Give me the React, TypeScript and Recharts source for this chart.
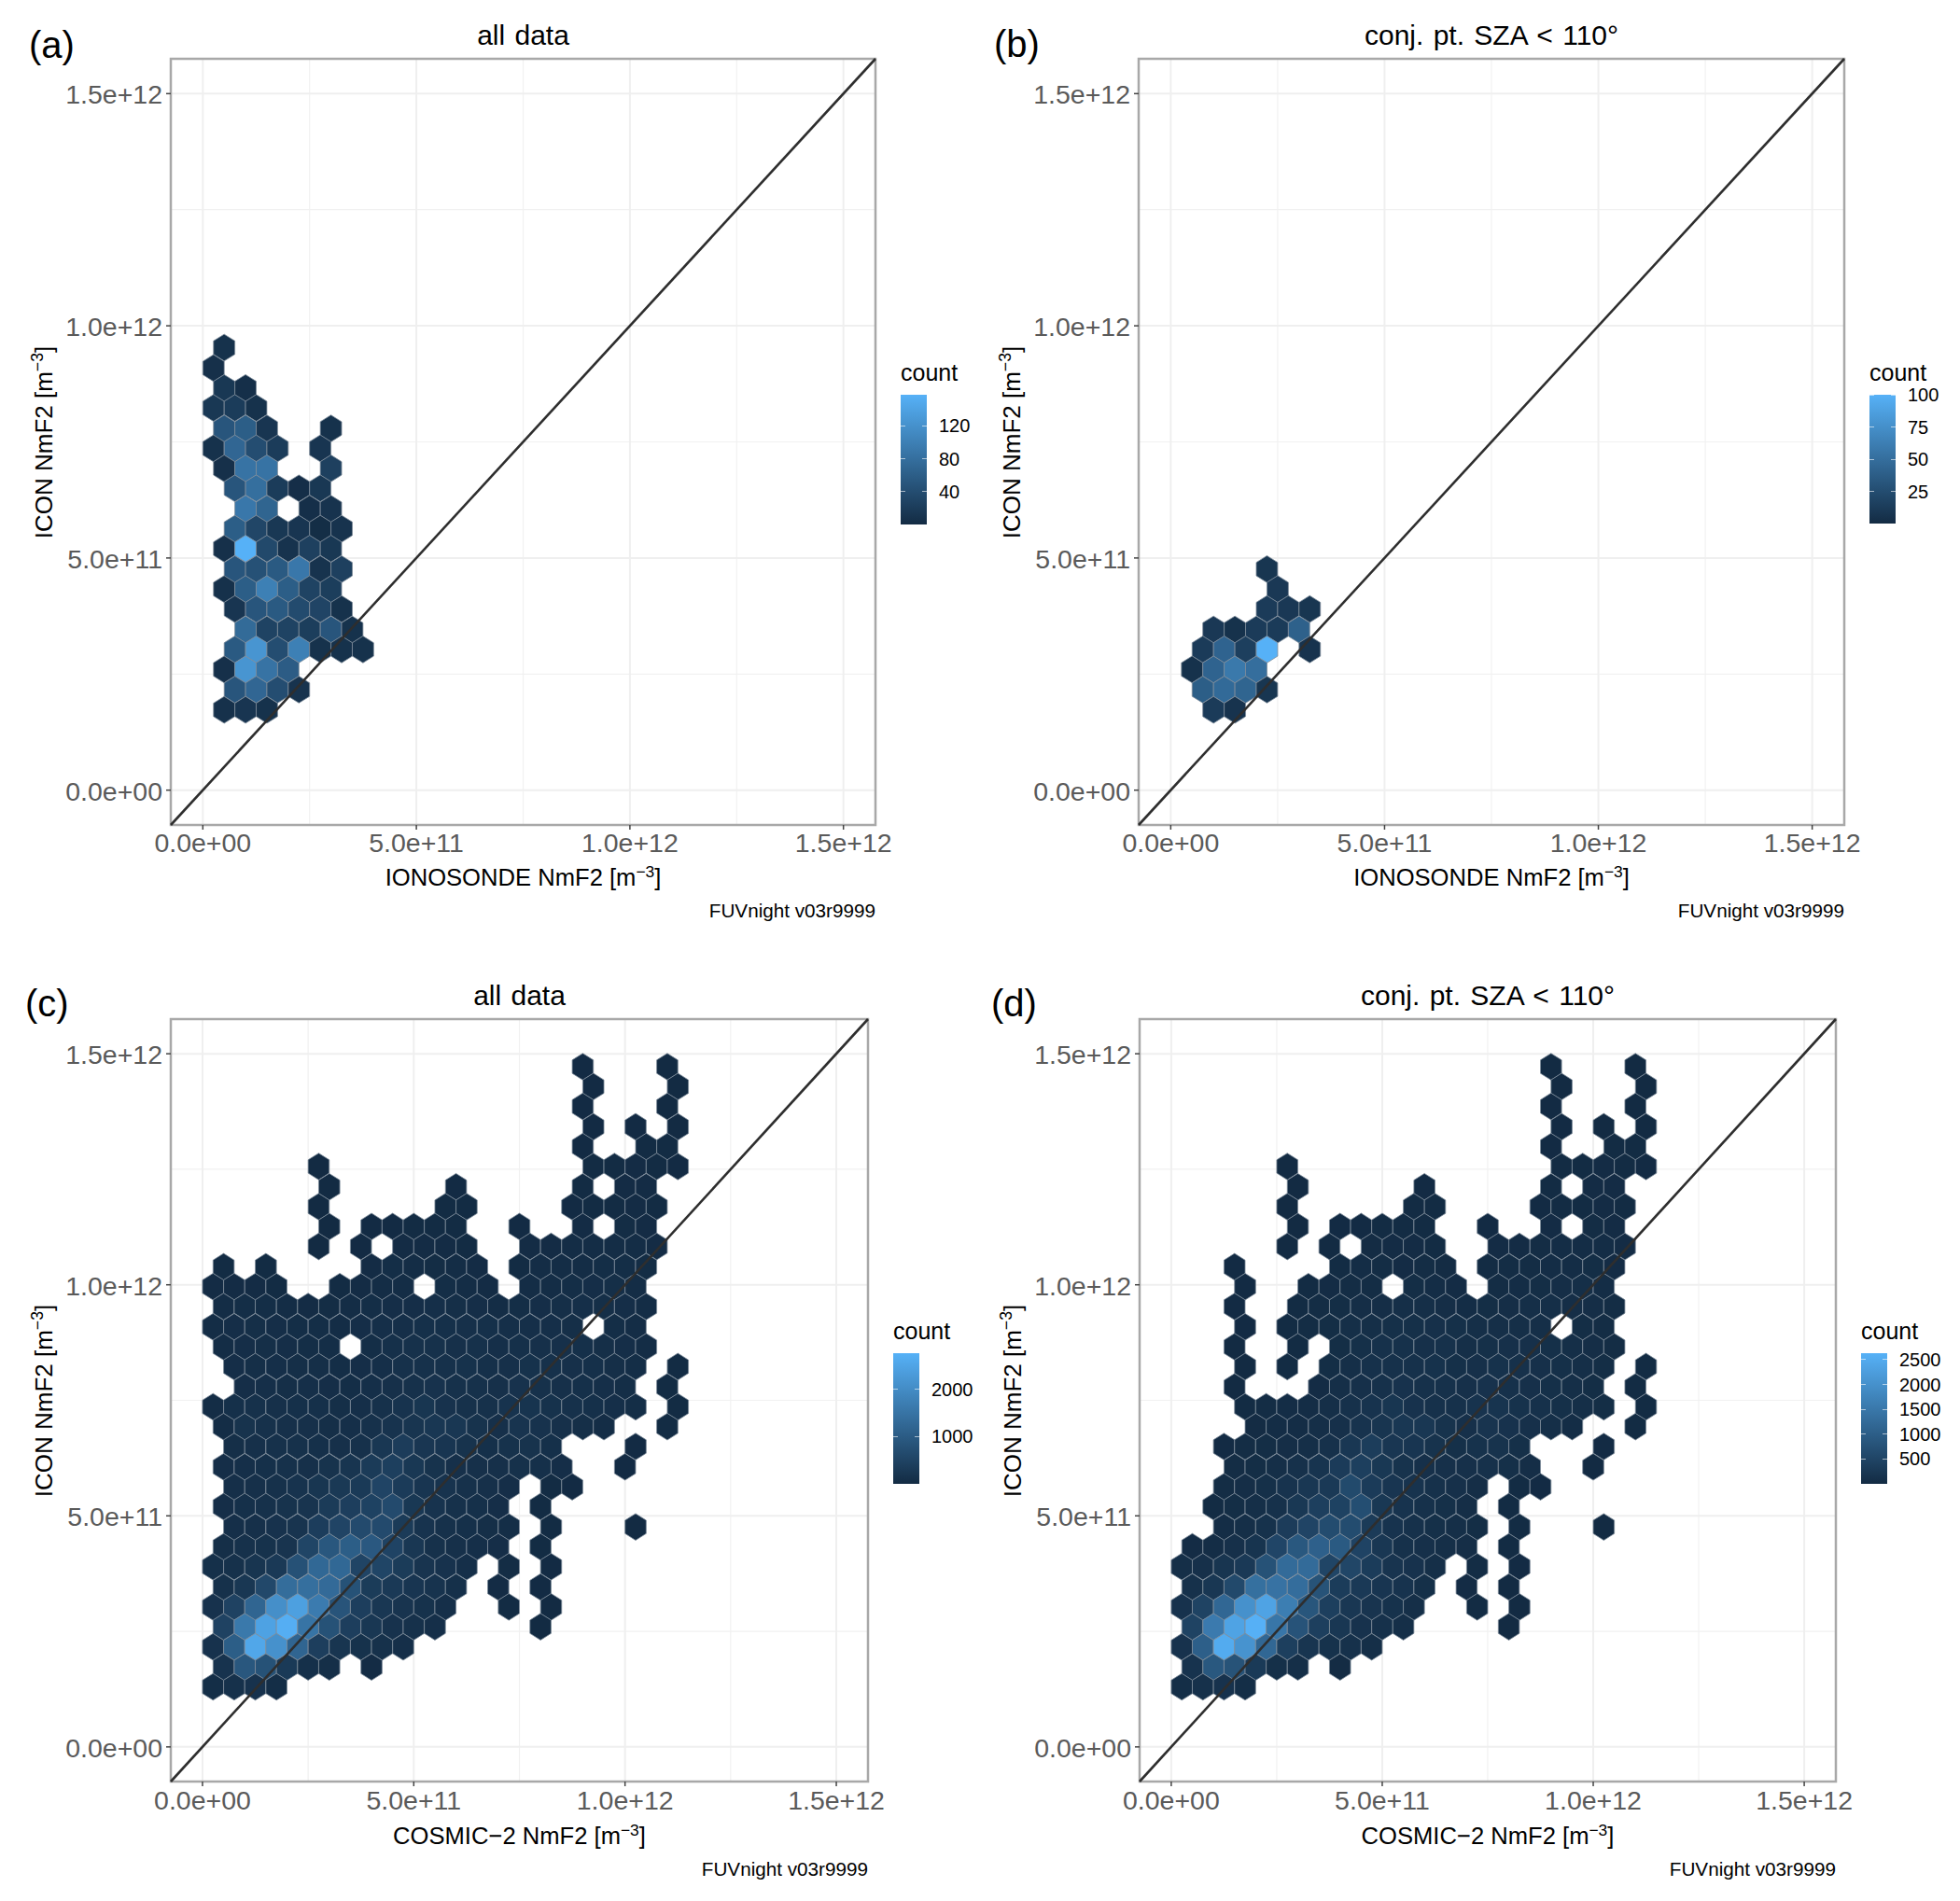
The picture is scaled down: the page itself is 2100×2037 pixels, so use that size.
import { ScatterChart, Scatter, XAxis, YAxis, CartesianGrid, ReferenceArea } from "recharts";

// all NmF2 values in units of 1e12 m^-3
type HexRow = [number, number, number[]]; // row y, x of first cell, counts per cell (0 = empty)

const binWidth = 0.05;
const axisRange = [-0.075, 1.575];
const majorTicks = [0, 0.5, 1, 1.5];
const minorTicks = [0.25, 0.75, 1.25];
const tickLabels = ["0.0e+00", "5.0e+11", "1.0e+12", "1.5e+12"];
const diagonal = [
  { x: -0.075, y: -0.075 },
  { x: 1.575, y: 1.575 },
];

const hexA: HexRow[] = [
  [0.953, 0.05, [8]],
  [0.909, 0.025, [6]],
  [0.866, 0.05, [15, 5]],
  [0.823, 0.025, [15, 20, 8]],
  [0.779, 0.05, [50, 60, 12, 0, 0, 8]],
  [0.736, 0.025, [8, 70, 40, 20, 0, 12]],
  [0.693, 0.05, [6, 85, 85, 0, 0, 25]],
  [0.65, 0.075, [50, 80, 20, 4, 15]],
  [0.606, 0.1, [90, 68, 0, 5, 10]],
  [0.563, 0.075, [60, 32, 15, 12, 3, 10]],
  [0.52, 0.05, [6, 158, 35, 10, 25, 15]],
  [0.476, 0.075, [50, 45, 55, 90, 10, 25]],
  [0.433, 0.05, [7, 60, 100, 60, 28, 22]],
  [0.39, 0.075, [12, 50, 55, 38, 30, 8]],
  [0.346, 0.1, [75, 28, 28, 22, 50, 8]],
  [0.303, 0.075, [55, 125, 40, 100, 8, 8, 8]],
  [0.26, 0.05, [6, 125, 85, 58]],
  [0.2165, 0.075, [50, 70, 40, 10]],
  [0.173, 0.05, [7, 12, 8]],
];

const hexB: HexRow[] = [
  [0.476, 0.225, [8]],
  [0.433, 0.25, [10]],
  [0.39, 0.225, [12, 10, 8]],
  [0.346, 0.1, [10, 5, 12, 12, 40]],
  [0.303, 0.075, [12, 42, 15, 100, 0, 6]],
  [0.26, 0.05, [5, 42, 58, 50]],
  [0.2165, 0.075, [38, 47, 43, 8]],
  [0.173, 0.1, [12, 6]],
];

const hexC: HexRow[] = [
  [1.472, 0.9, [8, 0, 0, 0, 6]],
  [1.429, 0.925, [8, 0, 0, 0, 6]],
  [1.386, 0.9, [9, 0, 0, 0, 7]],
  [1.342, 0.925, [9, 0, 8, 0, 7]],
  [1.299, 0.9, [10, 0, 0, 12, 11]],
  [1.256, 0.275, [5, 0, 0, 0, 0, 0, 0, 0, 0, 0, 0, 0, 0, 15, 20, 25, 20, 10]],
  [1.212, 0.3, [5, 0, 0, 0, 0, 0, 10, 0, 0, 0, 0, 0, 15, 0, 25, 30]],
  [1.169, 0.275, [5, 0, 0, 0, 0, 0, 12, 15, 0, 0, 0, 0, 10, 15, 20, 25, 15]],
  [1.126, 0.3, [6, 0, 10, 10, 12, 15, 20, 0, 0, 10, 0, 0, 30, 0, 35, 30]],
  [1.083, 0.275, [5, 0, 8, 0, 25, 30, 30, 20, 0, 0, 25, 30, 40, 50, 50, 45, 25]],
  [1.039, 0.05, [12, 0, 12, 0, 0, 0, 0, 25, 60, 40, 35, 40, 25, 0, 20, 40, 45, 50, 60, 60, 35]],
  [0.996, 0.025, [25, 25, 25, 15, 0, 0, 15, 30, 45, 40, 0, 60, 50, 30, 0, 40, 50, 60, 70, 80, 50]],
  [0.953, 0.05, [40, 60, 55, 40, 30, 35, 45, 60, 70, 70, 85, 80, 70, 50, 60, 70, 80, 85, 75, 70, 45]],
  [0.909, 0.025, [40, 70, 80, 70, 60, 60, 50, 70, 90, 90, 100, 100, 110, 100, 90, 90, 90, 80, 0, 60, 45]],
  [0.866, 0.05, [50, 70, 80, 70, 60, 60, 0, 60, 100, 120, 130, 110, 120, 90, 100, 110, 110, 100, 80, 70, 40]],
  [0.823, 0.075, [70, 80, 90, 80, 80, 60, 70, 90, 130, 120, 130, 140, 100, 110, 140, 120, 110, 100, 80, 60, 0, 15]],
  [0.779, 0.1, [70, 90, 80, 90, 70, 60, 90, 110, 120, 150, 130, 120, 110, 150, 130, 110, 100, 90, 60, 0, 15]],
  [0.736, 0.025, [40, 100, 120, 110, 100, 100, 80, 90, 130, 170, 220, 150, 130, 120, 170, 180, 140, 120, 100, 90, 60, 0, 15]],
  [0.693, 0.05, [50, 160, 120, 110, 110, 80, 90, 120, 170, 200, 240, 240, 160, 110, 190, 150, 110, 80, 50, 0, 0, 12]],
  [0.65, 0.075, [80, 110, 120, 130, 100, 110, 130, 250, 360, 230, 210, 160, 100, 140, 160, 100, 0, 0, 0, 10]],
  [0.606, 0.05, [70, 90, 100, 130, 110, 160, 200, 320, 420, 260, 160, 110, 110, 110, 120, 100, 70, 0, 0, 8]],
  [0.563, 0.075, [90, 110, 130, 170, 220, 280, 300, 520, 330, 210, 170, 130, 110, 70, 0, 15, 10]],
  [0.52, 0.05, [70, 100, 120, 160, 190, 320, 400, 470, 640, 260, 170, 130, 100, 70, 0, 15]],
  [0.476, 0.075, [90, 110, 150, 190, 380, 520, 640, 640, 320, 170, 120, 100, 80, 60, 0, 15, 0, 0, 0, 6]],
  [0.433, 0.05, [80, 120, 140, 190, 540, 900, 1050, 930, 500, 240, 120, 110, 90, 70, 0, 12]],
  [0.39, 0.025, [100, 120, 200, 290, 780, 1250, 1250, 520, 540, 340, 190, 150, 90, 0, 35, 0, 10]],
  [0.346, 0.05, [120, 250, 600, 1350, 1400, 1300, 800, 340, 290, 210, 170, 100, 0, 30, 0, 8]],
  [0.303, 0.025, [150, 480, 1200, 2050, 2400, 1650, 850, 400, 240, 190, 140, 90, 0, 0, 15, 0, 7]],
  [0.26, 0.05, [480, 1600, 2450, 2700, 1500, 800, 400, 240, 150, 130, 90, 0, 0, 0, 0, 6]],
  [0.2165, 0.025, [150, 1050, 2550, 2100, 1200, 400, 200, 140, 120, 90]],
  [0.173, 0.05, [170, 900, 800, 300, 100, 80, 0, 25]],
  [0.13, 0.025, [60, 120, 150, 60]],
];

const hexD: HexRow[] = [
  [1.472, 0.9, [7, 0, 0, 0, 6]],
  [1.429, 0.925, [7, 0, 0, 0, 6]],
  [1.386, 0.9, [8, 0, 0, 0, 6]],
  [1.342, 0.925, [8, 0, 7, 0, 6]],
  [1.299, 0.9, [9, 0, 0, 11, 10]],
  [1.256, 0.275, [5, 0, 0, 0, 0, 0, 0, 0, 0, 0, 0, 0, 0, 13, 18, 22, 18, 9]],
  [1.212, 0.3, [5, 0, 0, 0, 0, 0, 9, 0, 0, 0, 0, 0, 13, 0, 22, 26]],
  [1.169, 0.275, [5, 0, 0, 0, 0, 0, 10, 13, 0, 0, 0, 0, 9, 13, 18, 22, 13]],
  [1.126, 0.3, [5, 0, 9, 9, 10, 13, 18, 0, 0, 9, 0, 0, 26, 0, 30, 26]],
  [1.083, 0.275, [5, 0, 7, 0, 20, 25, 25, 18, 0, 0, 22, 26, 35, 44, 44, 40, 22]],
  [1.039, 0.15, [8, 0, 0, 0, 0, 15, 40, 30, 25, 30, 20, 0, 15, 30, 35, 40, 45, 50, 25]],
  [0.996, 0.175, [8, 0, 0, 12, 25, 35, 30, 0, 50, 40, 25, 0, 30, 40, 50, 60, 70, 40]],
  [0.953, 0.15, [8, 0, 0, 15, 30, 50, 60, 60, 75, 70, 60, 40, 50, 60, 70, 75, 65, 60, 35]],
  [0.909, 0.175, [8, 0, 12, 30, 50, 80, 80, 90, 90, 100, 90, 80, 80, 80, 70, 0, 50, 35]],
  [0.866, 0.15, [7, 0, 0, 15, 0, 50, 90, 110, 120, 100, 110, 80, 90, 100, 100, 90, 70, 60, 30]],
  [0.823, 0.175, [7, 0, 10, 0, 50, 80, 120, 110, 120, 130, 90, 100, 130, 110, 100, 90, 70, 50, 0, 12]],
  [0.779, 0.15, [7, 0, 0, 0, 25, 70, 100, 110, 140, 120, 110, 100, 140, 120, 100, 90, 80, 50, 0, 12]],
  [0.736, 0.175, [15, 30, 40, 40, 70, 120, 160, 210, 140, 120, 110, 160, 170, 130, 110, 90, 80, 50, 0, 12]],
  [0.693, 0.2, [20, 40, 40, 70, 100, 160, 190, 230, 230, 150, 100, 180, 140, 100, 70, 40, 0, 0, 10]],
  [0.65, 0.125, [8, 30, 50, 60, 80, 110, 240, 350, 220, 200, 150, 90, 130, 150, 90, 0, 0, 0, 8]],
  [0.606, 0.15, [30, 50, 70, 120, 170, 320, 400, 250, 150, 100, 100, 100, 110, 90, 60, 0, 0, 7]],
  [0.563, 0.125, [30, 60, 90, 160, 240, 280, 600, 320, 200, 160, 120, 100, 60, 0, 12, 8]],
  [0.52, 0.1, [15, 50, 80, 120, 250, 400, 450, 680, 250, 160, 120, 90, 60, 0, 12]],
  [0.476, 0.125, [40, 80, 130, 340, 500, 640, 640, 310, 160, 110, 90, 70, 50, 0, 12, 0, 0, 0, 5]],
  [0.433, 0.05, [25, 40, 100, 170, 520, 880, 1050, 920, 480, 230, 110, 100, 80, 60, 0, 10]],
  [0.39, 0.025, [70, 100, 190, 280, 760, 1250, 1250, 510, 530, 330, 180, 140, 80, 0, 30, 0, 8]],
  [0.346, 0.05, [110, 240, 590, 1350, 1400, 1300, 780, 330, 280, 200, 160, 90, 0, 25, 0, 7]],
  [0.303, 0.025, [140, 470, 1180, 2000, 2350, 1620, 840, 390, 230, 180, 130, 80, 0, 0, 12, 0, 6]],
  [0.26, 0.05, [470, 1560, 2350, 2620, 1470, 790, 390, 230, 140, 120, 80, 0, 0, 0, 0, 5]],
  [0.2165, 0.025, [140, 1030, 2520, 2050, 1180, 390, 190, 130, 110, 80]],
  [0.173, 0.05, [160, 880, 780, 290, 90, 70, 0, 20]],
  [0.13, 0.025, [55, 110, 140, 55]],
];

const legendTicksA = [40, 80, 120];
const legendTicksB = [25, 50, 75, 100];
const legendTicksC = [1000, 2000];
const legendTicksD = [500, 1000, 1500, 2000, 2500];

const font = "'Liberation Sans', Arial, sans-serif";
const low = [0x13, 0x2b, 0x43];
const high = [0x56, 0xb1, 0xf7];

function countColor(n: number, max: number) {
  const t = Math.min(n / max, 1);
  const c = low.map((l, i) => Math.round(l + (high[i] - l) * t));
  return `rgb(${c[0]},${c[1]},${c[2]})`;
}

function expand(rows: HexRow[]) {
  return rows.flatMap(([y, x0, counts]) =>
    counts.map((n, j) => ({ x: x0 + j * binWidth, y, n })).filter((p) => p.n > 0)
  );
}

type PanelProps = {
  left: number;
  right: number;
  top: number;
  bottom: number;
  letter: string;
  letterX: number;
  letterY: number;
  title: string;
  xName: string;
  labelDy: number;
  rows: HexRow[];
  max: number;
  legendX: number;
  legendTicks: number[];
  legendTop: number;
  legendBottom: number;
};

function Abs({ x, y, size, color = "#000", anchor = "left", children, rotate, wordSpacing }: any) {
  const tx = anchor === "center" ? "-50%" : anchor === "right" ? "-100%" : "0";
  return (
    <div
      style={{
        position: "absolute",
        left: x,
        top: y,
        fontFamily: font,
        fontSize: size,
        color,
        lineHeight: 1,
        whiteSpace: "nowrap",
        wordSpacing,
        transform: `translate(${tx}, -50%)${rotate ? ` rotate(${rotate}deg)` : ""}`,
      }}
    >
      {children}
    </div>
  );
}

function Panel(p: PanelProps) {
  const pw = p.right - p.left;
  const ph = p.bottom - p.top;
  const span = axisRange[1] - axisRange[0];
  const hw = (binWidth / 2) * (pw / span);
  const ry = (binWidth / Math.sqrt(3)) * (ph / span);
  const data = expand(p.rows);

  const hexShape = (s: any) => {
    const { cx, cy, payload } = s;
    const pts = [
      [cx, cy - ry],
      [cx + hw, cy - ry / 2],
      [cx + hw, cy + ry / 2],
      [cx, cy + ry],
      [cx - hw, cy + ry / 2],
      [cx - hw, cy - ry / 2],
    ]
      .map((q) => q.join(","))
      .join(" ");
    return <polygon points={pts} fill={countColor(payload.n, p.max)} stroke="#7d8b99" strokeWidth={0.8} />;
  };

  const mx = (p.left + p.right) / 2;
  const my = (p.top + p.bottom) / 2;
  const barH = p.legendBottom - p.legendTop;

  return (
    <>
      <div style={{ position: "absolute", left: p.left - 140, top: p.top - 20 }}>
        <ScatterChart
          width={pw + 180}
          height={ph + 80}
          margin={{ top: 20, right: 40, bottom: 0, left: 0 }}
        >
          <CartesianGrid stroke="#f1f1f1" strokeWidth={1.2} verticalValues={minorTicks} horizontalValues={minorTicks} />
          <CartesianGrid stroke="#efefef" strokeWidth={2} verticalValues={majorTicks} horizontalValues={majorTicks} />
          <XAxis
            type="number"
            dataKey="x"
            domain={axisRange}
            ticks={majorTicks}
            interval={0}
            height={60}
            tickFormatter={(v) => tickLabels[majorTicks.indexOf(v)]}
            tick={{ fontSize: 28.5, fill: "#5a5a5a", fontFamily: font, dy: p.labelDy / 2 }}
            tickLine={{ stroke: "#444", strokeWidth: 1.5 }}
            tickSize={5}
            tickMargin={4}
            axisLine={false}
          />
          <YAxis
            type="number"
            dataKey="y"
            domain={axisRange}
            ticks={majorTicks}
            interval={0}
            width={140}
            tickFormatter={(v) => tickLabels[majorTicks.indexOf(v)]}
            tick={{ fontSize: 28.5, fill: "#5a5a5a", fontFamily: font, dy: 1 }}
            tickLine={{ stroke: "#444", strokeWidth: 1.5 }}
            tickSize={5}
            tickMargin={4}
            axisLine={false}
          />
          <Scatter data={data} shape={hexShape} isAnimationActive={false} />
          <Scatter
            data={diagonal}
            shape={() => <g />}
            line={{ stroke: "#2e2e2e", strokeWidth: 2.6 }}
            isAnimationActive={false}
          />
          <ReferenceArea
            x1={axisRange[0]}
            x2={axisRange[1]}
            y1={axisRange[0]}
            y2={axisRange[1]}
            fill="none"
            stroke="#a8a8a8"
            strokeWidth={2.5}
          />
        </ScatterChart>
      </div>

      <Abs x={p.letterX} y={p.letterY} size={40}>{p.letter}</Abs>
      <Abs x={mx} y={p.top - 25} size={30} anchor="center" wordSpacing={2}>{p.title}</Abs>
      <Abs x={mx} y={p.bottom + 57 + p.labelDy} size={25.6} anchor="center">
        {p.xName} NmF2 [m<sup style={{ fontSize: "68%", lineHeight: 0 }}>−3</sup>]
      </Abs>
      <Abs x={p.left - 136} y={my} size={26} anchor="center" rotate={-90}>
        ICON NmF2 [m<sup style={{ fontSize: "68%", lineHeight: 0 }}>−3</sup>]
      </Abs>
      <Abs x={p.right} y={p.bottom + 92 + p.labelDy} size={20.7} anchor="right">FUVnight v03r9999</Abs>

      <Abs x={p.legendX} y={p.legendTop - 24} size={25}>count</Abs>
      <div
        style={{
          position: "absolute",
          left: p.legendX,
          top: p.legendTop,
          width: 28,
          height: barH,
          background: `linear-gradient(to top, ${countColor(0, 1)}, ${countColor(1, 1)})`,
        }}
      />
      {p.legendTicks.map((t) => {
        const y = p.legendBottom - (t / p.max) * barH;
        return (
          <div key={t}>
            <div style={{ position: "absolute", left: p.legendX, top: y - 0.5, width: 5, height: 1, background: "rgba(255,255,255,0.6)" }} />
            <div style={{ position: "absolute", left: p.legendX + 23, top: y - 0.5, width: 5, height: 1, background: "rgba(255,255,255,0.6)" }} />
            <Abs x={p.legendX + 41} y={y} size={20}>{t}</Abs>
          </div>
        );
      })}
    </>
  );
}

export default function App() {
  return (
    <div style={{ position: "absolute", left: 0, top: 0, width: 2100, height: 2037, background: "#fff", overflow: "hidden" }}>
      <Panel left={183} right={938} top={63} bottom={884} letter="(a)" letterX={31} letterY={48} title="all data" xName="IONOSONDE" labelDy={0}
        rows={hexA} max={158} legendX={965} legendTicks={legendTicksA} legendTop={423} legendBottom={562} />
      <Panel left={1220} right={1976} top={63} bottom={884} letter="(b)" letterX={1065} letterY={47} title="conj. pt. SZA < 110°" xName="IONOSONDE" labelDy={0}
        rows={hexB} max={100} legendX={2003} legendTicks={legendTicksB} legendTop={423} legendBottom={561} />
      <Panel left={183} right={930} top={1092} bottom={1909} letter="(c)" letterX={27} letterY={1075} title="all data" xName="COSMIC−2" labelDy={2}
        rows={hexC} max={2760} legendX={957} legendTicks={legendTicksC} legendTop={1450} legendBottom={1590} />
      <Panel left={1221} right={1967} top={1092} bottom={1909} letter="(d)" letterX={1062} letterY={1075} title="conj. pt. SZA < 110°" xName="COSMIC−2" labelDy={2}
        rows={hexD} max={2630} legendX={1994} legendTicks={legendTicksD} legendTop={1450} legendBottom={1590} />
    </div>
  );
}
